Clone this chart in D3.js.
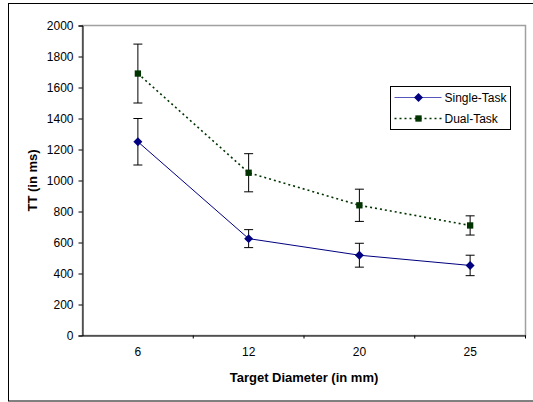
<!DOCTYPE html>
<html>
<head>
<meta charset="utf-8">
<script src="https://cdn.jsdelivr.net/npm/d3@7"></script>
<style>
  body { margin: 0; background: #fff; }
  text { font-family: "Liberation Sans", Arial, sans-serif; }
</style>
</head>
<body>
<script>
// datos
const diameters = ["6", "12", "20", "25"];
const singleTask = [1250, 625, 518, 452];
const singleErr = [150, 58, 77, 66];
const dualTask = [1690, 1050, 840, 710];
const dualErr = [190, 123, 104, 62];
const yTicks = [0, 200, 400, 600, 800, 1000, 1200, 1400, 1600, 1800, 2000];

const W = 533, H = 402;
const margin = { left: 82.5, top: 25.5, right: 7.5, bottom: 66.5 };
const width = W - margin.left - margin.right;
const height = H - margin.top - margin.bottom;

const svg = d3.select("body").append("svg")
    .attr("width", W)
    .attr("height", H);

// marco exterior
svg.append("rect")
    .attr("x", 8.5).attr("y", 3.5)
    .attr("width", W).attr("height", 397.5)
    .attr("fill", "#fff")
    .attr("stroke", "#000")
    .attr("stroke-width", 1);

const g = svg.append("g")
    .attr("transform", `translate(${margin.left},${margin.top})`);

const x = d3.scaleBand().domain(diameters).range([0, width]);
const y = d3.scaleLinear().domain([0, 2000]).range([height, 0]);

// borde gris del area de trazado
g.append("rect")
    .attr("width", width).attr("height", height)
    .attr("fill", "none")
    .attr("stroke", "#a0a0a0")
    .attr("stroke-width", 1.5);

// eje y
const yAxis = g.append("g")
    .call(d3.axisLeft(y).tickValues(yTicks).tickSize(4).tickPadding(5).tickFormat(d3.format("d")));
yAxis.select(".domain").attr("stroke", "#000");
yAxis.selectAll("text").style("font-size", "12px").attr("fill", "#000");

// eje x, marcas en los limites de las bandas
const xAxis = g.append("g")
    .attr("transform", `translate(0,${height})`)
    .call(d3.axisBottom(x).tickSize(0).tickPadding(12));
xAxis.select(".domain").attr("stroke", "#000").attr("stroke-width", 1.2);
xAxis.selectAll("text").style("font-size", "12px").attr("fill", "#000");
xAxis.selectAll(".edge")
    .data(diameters)
    .enter().append("line")
    .attr("x1", d => x(d) + x.bandwidth())
    .attr("x2", d => x(d) + x.bandwidth())
    .attr("y1", 0).attr("y2", 3)
    .attr("stroke", "#000");

// titulos de ejes
g.append("text")
    .text("Target Diameter (in mm)")
    .attr("x", width / 2).attr("y", height + 46)
    .attr("text-anchor", "middle")
    .style("font-size", "13px").style("font-weight", "bold");

g.append("text")
    .text("TT (in ms)")
    .attr("transform", `translate(${32.5 - margin.left},${height / 2}) rotate(-90)`)
    .attr("text-anchor", "middle")
    .attr("dy", "0.35em")
    .style("font-size", "13px").style("font-weight", "bold");

const cx = d => x(d) + x.bandwidth() / 2;

const series = [
    { name: "Single-Task", vals: singleTask, err: singleErr, color: "#000080", dash: null, rot: 45 },
    { name: "Dual-Task", vals: dualTask, err: dualErr, color: "#003300", dash: "2,3", rot: 0 }
];

const marker = d3.symbol().type(d3.symbolSquare).size(40);

series.forEach(s => {
    // barras de error
    const eb = g.append("g");
    diameters.forEach((d, i) => {
        const top = y(s.vals[i] + s.err[i]), bot = y(s.vals[i] - s.err[i]);
        eb.append("line").attr("x1", cx(d)).attr("x2", cx(d)).attr("y1", top).attr("y2", bot).attr("stroke", "#000");
        [top, bot].forEach(yy => eb.append("line")
            .attr("x1", cx(d) - 4.5).attr("x2", cx(d) + 4.5)
            .attr("y1", yy).attr("y2", yy).attr("stroke", "#000"));
    });

    g.append("path")
        .datum(s.vals)
        .attr("d", d3.line().x((v, i) => cx(diameters[i])).y(v => y(v)))
        .attr("fill", "none")
        .attr("stroke", s.color)
        .attr("stroke-width", s.dash ? 1.6 : 1)
        .attr("stroke-dasharray", s.dash);

    g.selectAll(null)
        .data(s.vals)
        .enter().append("path")
        .attr("d", marker)
        .attr("transform", (v, i) => `translate(${cx(diameters[i])},${y(v)}) rotate(${s.rot})`)
        .attr("fill", s.color);
});

// leyenda
const legend = svg.append("g").attr("transform", "translate(390.5,86.5)");
legend.append("rect")
    .attr("width", 120).attr("height", 43)
    .attr("fill", "#fff").attr("stroke", "#000");
series.forEach((s, i) => {
    const ly = 11 + i * 21;
    legend.append("line")
        .attr("x1", 4).attr("x2", 51).attr("y1", ly).attr("y2", ly)
        .attr("stroke", i === 0 ? "#5555bb" : s.color)
        .attr("stroke-width", s.dash ? 1.6 : 1)
        .attr("stroke-dasharray", s.dash);
    legend.append("path")
        .attr("d", marker)
        .attr("transform", `translate(28,${ly}) rotate(${s.rot})`)
        .attr("fill", s.color);
    legend.append("text")
        .text(s.name)
        .attr("x", 54).attr("y", ly).attr("dy", "0.35em")
        .style("font-size", "12px");
});
</script>
</body>
</html>
